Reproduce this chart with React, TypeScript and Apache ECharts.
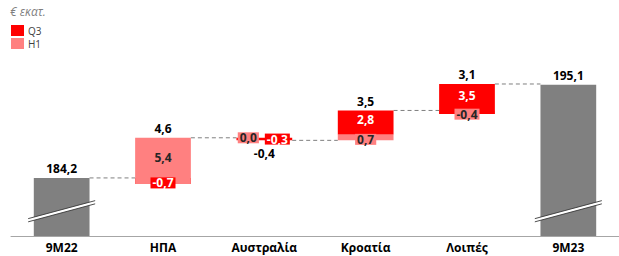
import React, { useEffect, useRef } from 'react';
import * as echarts from 'echarts';

const categories = ['9M22', 'ΗΠΑ', 'Αυστραλία', 'Κροατία', 'Λοιπές', '9M23'];
const totals: (number | null)[] = [184.2, null, null, null, null, 195.1];
const q3Values: (number | null)[] = [null, -0.7, -0.3, 2.8, 3.5, null];
const h1Values: (number | null)[] = [null, 5.4, 0.0, 0.7, -0.4, null];
const q3First = [false, true, false, false, false, false];
const changeLabels = [184.2, 4.6, -0.4, 3.5, 3.1, 195.1];
const legendNames = ['Q3', 'H1'];
const unitLabel = '€ εκατ.';
const axisBreakValue = 180.3;

const COLORS: Record<string, string> = { q3: '#ff0000', h1: '#ff8080', total: '#808080' };
const FONT = '"Open Sans", "Liberation Sans", sans-serif';

const fmt = (v: number) => v.toFixed(1).replace('.', ',').replace('-0,0', '0,0');

function buildSegments() {
  const segs: any[] = [];
  const ends: number[] = [];
  const extents: [number, number][] = [];
  let level = 0;
  categories.forEach((_, i) => {
    const t = totals[i];
    if (t != null) {
      segs.push([i, 0, t, 'total', t, 0]);
      level = t;
      extents.push([0, t]);
    } else {
      const order = q3First[i] ? ['q3', 'h1'] : ['h1', 'q3'];
      const q = q3Values[i] ?? 0;
      const h = h1Values[i] ?? 0;
      const small = Math.abs(q) < 0.5 && Math.abs(h) < 0.5 ? 1 : 0;
      let lo = level, hi = level;
      order.forEach((k) => {
        const v = k === 'q3' ? q : h;
        segs.push([i, level, level + v, k, v, small]);
        level += v;
        lo = Math.min(lo, level);
        hi = Math.max(hi, level);
      });
      extents.push([lo, hi]);
    }
    ends.push(level);
  });
  return { segs, ends, extents };
}

export default function App() {
  const ref = useRef<HTMLDivElement>(null);
  useEffect(() => {
    if (!ref.current) return;
    const chart = echarts.init(ref.current, null, { renderer: 'svg' });
    const { segs, ends, extents } = buildSegments();
    const changeSegs = segs.filter((s) => s[3] !== 'total');

    const segGeom = (params: any, api: any) => {
      const i = api.value(0);
      const from = api.value(1);
      const to = api.value(2);
      const cs = params.coordSys;
      const bottomLimit = cs.y + cs.height;
      const bw = api.size([1, 0])[0] * 0.55;
      const pa = api.coord([i, from]);
      const pb = api.coord([i, to]);
      const ya = Math.min(pa[1], bottomLimit);
      const yb = Math.min(pb[1], bottomLimit);
      const top = Math.min(ya, yb);
      const h = Math.max(Math.abs(ya - yb), 0.01);
      return { i, cx: pa[0], bw, top, h };
    };

    const option: any = {
      animation: false,
      grid: { left: 11, width: 620, top: 43, bottom: 20 },
      legend: {
        data: legendNames,
        orient: 'vertical',
        left: 11,
        top: 25,
        padding: 0,
        itemWidth: 13,
        itemHeight: 11,
        itemGap: 2,
        icon: 'rect',
        selectedMode: false,
        textStyle: { fontFamily: FONT, fontSize: 10, color: '#404040', lineHeight: 11, padding: [0, 0, 0, -1] },
      },
      graphic: [
        {
          type: 'text',
          left: 10,
          top: 5,
          style: { text: unitLabel, font: `italic 12px ${FONT}`, fill: '#7f7f7f' },
        },
      ],
      xAxis: {
        type: 'category',
        data: categories,
        axisLine: { lineStyle: { color: '#a6a6a6', width: 1 } },
        axisTick: { show: false },
        axisLabel: { fontFamily: FONT, fontSize: 12, fontWeight: 'bold', color: '#000', margin: 5 },
      },
      yAxis: { type: 'value', min: 177.4, max: 200, show: false },
      series: [
        { name: 'Q3', type: 'bar', data: [], itemStyle: { color: COLORS.q3 } },
        { name: 'H1', type: 'bar', data: [], itemStyle: { color: COLORS.h1 } },
        {
          type: 'custom',
          z: 1,
          data: ends.slice(0, -1).map((e, i) => [i, e]),
          renderItem: (params: any, api: any) => {
            const i = api.value(0);
            const v = api.value(1);
            const bw = api.size([1, 0])[0] * 0.55;
            const p1 = api.coord([i, v]);
            const p2 = api.coord([i + 1, v]);
            return {
              type: 'line',
              shape: { x1: p1[0] + bw / 2, y1: p1[1], x2: p2[0] - bw / 2, y2: p2[1] },
              style: { stroke: '#7f7f7f', lineWidth: 1, lineDash: [4, 3] },
            };
          },
        },
        {
          type: 'custom',
          z: 2,
          data: segs,
          renderItem: (params: any, api: any) => {
            const { i, cx, bw, top, h } = segGeom(params, api);
            const kind = segs[params.dataIndex][3];
            const children: any[] = [
              {
                type: 'rect',
                shape: { x: cx - bw / 2, y: top, width: bw, height: h },
                style: { fill: COLORS[kind] },
              },
            ];
            if (kind === 'total') {
              const yb0 = api.coord([i, axisBreakValue])[1];
              const dx = 33.5, dy = 9, gap = 1.6;
              children.push({
                type: 'polygon',
                shape: {
                  points: [
                    [cx - dx, yb0 + dy - gap], [cx + dx, yb0 - dy - gap],
                    [cx + dx, yb0 - dy + gap], [cx - dx, yb0 + dy + gap],
                  ],
                },
                style: { fill: '#ffffff' },
              });
              [-gap, gap].forEach((o) =>
                children.push({
                  type: 'line',
                  shape: { x1: cx - dx, y1: yb0 + dy + o, x2: cx + dx, y2: yb0 - dy + o },
                  style: { stroke: '#3a3a3a', lineWidth: 0.9 },
                })
              );
            }
            return { type: 'group', children };
          },
        },
        {
          type: 'custom',
          z: 3,
          data: changeSegs,
          renderItem: (params: any, api: any) => {
            const { cx, top, h } = segGeom(params, api);
            const kind = changeSegs[params.dataIndex][3];
            const val = api.value(4);
            const small = api.value(5);
            let lx = cx;
            if (small) lx = kind === 'h1' ? cx - 16 : cx + 13;
            const ly = small ? top + h / 2 : h < 12 ? top + h / 2 + 2 : top + h / 2 - 3;
            return {
              type: 'text',
              x: lx,
              y: ly,
              style: {
                text: fmt(val),
                font: `bold 12px ${FONT}`,
                fill: kind === 'q3' ? '#ffffff' : '#262626',
                align: 'center',
                verticalAlign: 'middle',
                backgroundColor: COLORS[kind],
                padding: [0, 2, 0, 2],
                lineHeight: 11,
              },
            };
          },
        },
        {
          type: 'custom',
          z: 3,
          data: changeLabels.map((v, i) => [i, v]),
          renderItem: (params: any, api: any) => {
            const i = api.value(0);
            const v = api.value(1);
            const [lo, hi] = extents[i];
            const pos = v >= 0;
            const p = api.coord([i, pos ? hi : lo]);
            return {
              type: 'text',
              x: p[0],
              y: pos ? p[1] - 9 : p[1] + 13,
              style: {
                text: fmt(v),
                font: `bold 12px ${FONT}`,
                fill: '#000',
                align: 'center',
                verticalAlign: 'middle',
              },
            };
          },
        },
      ],
    };
    chart.setOption(option);
    return () => chart.dispose();
  }, []);
  return <div ref={ref} style={{ width: 619, height: 256, position: 'absolute', left: 0, top: 0 }} />;
}
